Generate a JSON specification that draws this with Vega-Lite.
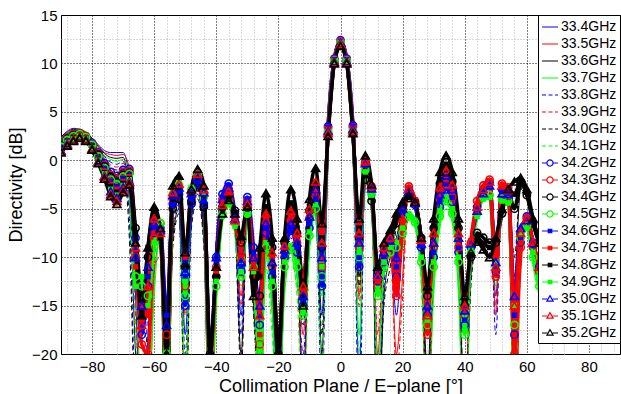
{
"$schema":"https://vega.github.io/schema/vega-lite/v6.json",
"width":559,"height":339,
"autosize":{"type":"none"},
"padding":{"left":61,"top":15,"right":1,"bottom":40},
"background":"white",
"config":{"font":"Liberation Sans","view":{"stroke":"black","strokeWidth":1},
 "axis":{"labelFont":"Liberation Sans","titleFont":"Liberation Sans","labelColor":"black","titleColor":"black","titleFontWeight":"normal","ticks":false,"domain":false},
 "legend":{"orient":"top-right","offset":0,"padding":3,"strokeColor":"black","fillColor":"white","labelFontSize":14,"labelFont":"Liberation Sans","labelColor":"black","labelOffset":2,"symbolSize":256,"symbolStrokeWidth":1.2,"rowPadding":1}},
"data":{"values":[
{"x":-90,"a":2.4,"b":2.3,"c":2.2,"d":2.1,"e":2.0,"f":2.0,"g":1.9,"h":1.8,"i":1.7,"j":1.6,"k":1.5,"l":1.4,"m":1.3,"n":1.2,"o":1.2,"p":1.1,"q":1.0,"r":0.9,"s":0.8},
{"x":-88,"a":3.0,"b":2.9,"c":2.8,"d":2.8,"e":2.7,"f":2.6,"g":2.5,"h":2.4,"i":2.3,"j":2.3,"k":2.2,"l":2.1,"m":2.0,"n":1.9,"o":1.8,"p":1.8,"q":1.7,"r":1.6,"s":1.5},
{"x":-86,"a":3.3,"b":3.2,"c":3.2,"d":3.1,"e":3.0,"f":2.9,"g":2.9,"h":2.8,"i":2.7,"j":2.7,"k":2.6,"l":2.5,"m":2.4,"n":2.4,"o":2.3,"p":2.2,"q":2.1,"r":2.1,"s":2.0},
{"x":-84,"a":3.2,"b":3.2,"c":3.1,"d":3.1,"e":3.0,"f":3.0,"g":2.9,"h":2.9,"i":2.8,"j":2.8,"k":2.7,"l":2.7,"m":2.6,"n":2.6,"o":2.5,"p":2.5,"q":2.4,"r":2.4,"s":2.3},
{"x":-82,"a":2.9,"b":2.9,"c":2.8,"d":2.8,"e":2.7,"f":2.7,"g":2.6,"h":2.6,"i":2.5,"j":2.5,"k":2.4,"l":2.4,"m":2.3,"n":2.3,"o":2.2,"p":2.2,"q":2.1,"r":2.1,"s":2.0},
{"x":-80,"a":2.3,"b":2.2,"c":2.2,"d":2.1,"e":2.0,"f":2.0,"g":1.9,"h":1.8,"i":1.8,"j":1.7,"k":1.6,"l":1.6,"m":1.5,"n":1.4,"o":1.4,"p":1.3,"q":1.2,"r":1.2,"s":1.1},
{"x":-78,"a":1.6,"b":1.5,"c":1.4,"d":1.3,"e":1.2,"f":1.1,"g":1.0,"h":0.9,"i":0.8,"j":0.7,"k":0.6,"l":0.4,"m":0.3,"n":0.2,"o":0.1,"p":0.0,"q":-0.1,"r":-0.2,"s":-0.3},
{"x":-76,"a":1.0,"b":0.8,"c":0.7,"d":0.5,"e":0.4,"f":0.2,"g":0.0,"h":-0.1,"i":-0.3,"j":-0.5,"k":-0.6,"l":-0.8,"m":-0.9,"n":-1.1,"o":-1.3,"p":-1.4,"q":-1.6,"r":-1.7,"s":-1.9},
{"x":-74,"a":0.8,"b":0.6,"c":0.3,"d":0.1,"e":-0.2,"f":-0.5,"g":-0.7,"h":-1.0,"i":-1.2,"j":-1.5,"k":-1.7,"l":-2.0,"m":-2.2,"n":-2.5,"o":-2.7,"p":-3.0,"q":-3.2,"r":-3.5,"s":-3.7},
{"x":-72,"a":0.8,"b":0.5,"c":0.2,"d":-0.1,"e":-0.4,"f":-0.7,"g":-1.0,"h":-1.3,"i":-1.6,"j":-1.9,"k":-2.2,"l":-2.5,"m":-2.7,"n":-3.0,"o":-3.3,"p":-3.6,"q":-3.9,"r":-4.2,"s":-4.5},
{"x":-70,"a":0.8,"b":0.6,"c":0.3,"d":0.1,"e":-0.1,"f":-0.3,"g":-0.6,"h":-0.8,"i":-1.0,"j":-1.2,"k":-1.5,"l":-1.7,"m":-1.9,"n":-2.2,"o":-2.4,"p":-2.6,"q":-2.8,"r":-3.1,"s":-3.3},
{"x":-68,"a":-2.0,"b":-0.8,"c":-4.0,"d":-1.5,"e":-6.0,"f":-2.5,"g":-8.0,"h":-3.0,"i":-0.9,"j":-1.1,"k":-1.3,"l":-1.4,"m":-1.6,"n":-1.7,"o":-1.9,"p":-2.0,"q":-2.2,"r":-2.3,"s":-2.5},
{"x":-66,"a":-14,"b":-9,"c":-20,"d":-11,"e":-25,"f":-16,"g":-28,"h":-18,"i":-8,"j":-10,"k":-7,"l":-12,"m":-9,"n":-11,"o":-7.5,"p":-13,"q":-10,"r":-9,"s":-8.5},
{"x":-64,"a":-30,"b":-28,"c":-32,"d":-26,"e":-30,"f":-27,"g":-35,"h":-29,"i":-18,"j":-19,"k":-14,"l":-13,"m":-17,"n":-15,"o":-16,"p":-12,"q":-15,"r":-17,"s":-16},
{"x":-62,"a":-22,"b":-30,"c":-18,"d":-26,"e":-15,"f":-24,"g":-20,"h":-28,"i":-13,"j":-20,"k":-10,"l":-14,"m":-12,"n":-16,"o":-9,"p":-15,"q":-11,"r":-13,"s":-9},
{"x":-60,"a":-10,"b":-12,"c":-8,"d":-14,"e":-9,"f":-11,"g":-7,"h":-13,"i":-7.5,"j":-8,"k":-6,"l":-9,"m":-7,"n":-7.5,"o":-5.5,"p":-8.5,"q":-6.5,"r":-6,"s":-4.8},
{"x":-58,"a":-7,"b":-8,"c":-9,"d":-7.5,"e":-8,"f":-10,"g":-9,"h":-7,"i":-7,"j":-6.5,"k":-7.5,"l":-6.5,"m":-7,"n":-7,"o":-8,"p":-6.8,"q":-7.2,"r":-7.5,"s":-7},
{"x":-56,"a":-30,"b":-25,"c":-35,"d":-28,"e":-26,"f":-32,"g":-24,"h":-30,"i":-22,"j":-18,"k":-25,"l":-20,"m":-16,"n":-22,"o":-19,"p":-24,"q":-17,"r":-21,"s":-20},
{"x":-54,"a":-6,"b":-5,"c":-8,"d":-4.5,"e":-7,"f":-5.5,"g":-9,"h":-6,"i":-4.5,"j":-4,"k":-5,"l":-3.5,"m":-4.5,"n":-3.8,"o":-4,"p":-3.2,"q":-3.6,"r":-3.3,"s":-2.6},
{"x":-52,"a":-4,"b":-3.5,"c":-5,"d":-3,"e":-4.5,"f":-3.8,"g":-5.5,"h":-4,"i":-3.5,"j":-2.8,"k":-4,"l":-2.5,"m":-3.2,"n":-2.6,"o":-3,"p":-2.3,"q":-2.8,"r":-2.4,"s":-1.6},
{"x":-50,"a":-18,"b":-25,"c":-14,"d":-30,"e":-20,"f":-16,"g":-28,"h":-22,"i":-15,"j":-13,"k":-11,"l":-14,"m":-12,"n":-10,"o":-11,"p":-12.5,"q":-11.5,"r":-9.5,"s":-9.5},
{"x":-48,"a":-5,"b":-4,"c":-6,"d":-3.5,"e":-5.5,"f":-4.5,"g":-7,"h":-4,"i":-4.5,"j":-3.5,"k":-4.2,"l":-3,"m":-4,"n":-3.2,"o":-3.6,"p":-2.8,"q":-3.4,"r":-3,"s":-3},
{"x":-46,"a":-2.5,"b":-2,"c":-3.5,"d":-2.2,"e":-3,"f":-2.6,"g":-4,"h":-2.8,"i":-2.5,"j":-2,"k":-2.8,"l":-1.5,"m":-2.2,"n":-1.7,"o":-2,"p":-1.3,"q":-1.8,"r":-1.4,"s":-0.9},
{"x":-44,"a":-6,"b":-4,"c":-8,"d":-5,"e":-7,"f":-5,"g":-9,"h":-6,"i":-4.5,"j":-3.5,"k":-4.8,"l":-3.8,"m":-4.2,"n":-3.2,"o":-3.6,"p":-3.4,"q":-3.3,"r":-3,"s":-2.6},
{"x":-42,"a":-30,"b":-27,"c":-33,"d":-25,"e":-29,"f":-35,"g":-26,"h":-31,"i":-24,"j":-22,"k":-20,"l":-25,"m":-21,"n":-23,"o":-19,"p":-22,"q":-20,"r":-21,"s":-20},
{"x":-40,"a":-9,"b":-12,"c":-10,"d":-14,"e":-8,"f":-11,"g":-13,"h":-10,"i":-10,"j":-11,"k":-12,"l":-13,"m":-10.5,"n":-11.5,"o":-12,"p":-12.5,"q":-10,"r":-11,"s":-11},
{"x":-38,"a":-4,"b":-4.5,"c":-5,"d":-5.5,"e":-4,"f":-4.8,"g":-6,"h":-5.2,"i":-3.5,"j":-4,"k":-4.8,"l":-5.5,"m":-3.8,"n":-4.3,"o":-5,"p":-5.8,"q":-4,"r":-4.6,"s":-5.5},
{"x":-36,"a":-2.5,"b":-3,"c":-3.5,"d":-4.2,"e":-2.6,"f":-3.2,"g":-4,"h":-4.5,"i":-2.4,"j":-3,"k":-3.6,"l":-4.4,"m":-2.6,"n":-3.1,"o":-3.8,"p":-4.6,"q":-2.8,"r":-3.2,"s":-4.1},
{"x":-34,"a":-5,"b":-6,"c":-6.5,"d":-7,"e":-5.5,"f":-6,"g":-7,"h":-7.5,"i":-5.5,"j":-5.8,"k":-5.2,"l":-6.5,"m":-5.8,"n":-6,"o":-5.4,"p":-6.8,"q":-6,"r":-6.2,"s":-5.5},
{"x":-32,"a":-16,"b":-14,"c":-20,"d":-12,"e":-18,"f":-15,"g":-22,"h":-13,"i":-11.5,"j":-10.5,"k":-8.5,"l":-12,"m":-11,"n":-10,"o":-8,"p":-11.5,"q":-10.5,"r":-9.5,"s":-7.8},
{"x":-30,"a":-4.5,"b":-5,"c":-5.5,"d":-6,"e":-4.8,"f":-5.2,"g":-6,"h":-6.5,"i":-3.8,"j":-4.2,"k":-4.8,"l":-5.5,"m":-4,"n":-4.4,"o":-4.9,"p":-5.6,"q":-4.2,"r":-4.5,"s":-4.8},
{"x":-28,"a":-12,"b":-10,"c":-15,"d":-11,"e":-13,"f":-9,"g":-16,"h":-12,"i":-9,"j":-10,"k":-12,"l":-11,"m":-9.5,"n":-10.5,"o":-12.5,"p":-11.5,"q":-10,"r":-11,"s":-14},
{"x":-26,"a":-25,"b":-30,"c":-22,"d":-28,"e":-26,"f":-32,"g":-24,"h":-27,"i":-17,"j":-19,"k":-14,"l":-20,"m":-16,"n":-18,"o":-12,"p":-19,"q":-15,"r":-16,"s":-9},
{"x":-24,"a":-8,"b":-7,"c":-6,"d":-10,"e":-8.5,"f":-7.5,"g":-6.5,"h":-11,"i":-7.5,"j":-6.5,"k":-5.5,"l":-9,"m":-7,"n":-6,"o":-4.8,"p":-8.5,"q":-6.5,"r":-5.5,"s":-3.4},
{"x":-22,"a":-14,"b":-12,"c":-10,"d":-16,"e":-15,"f":-13,"g":-11,"h":-18,"i":-12,"j":-11,"k":-9,"l":-13,"m":-11.5,"n":-10,"o":-8.5,"p":-12.5,"q":-10.5,"r":-9.5,"s":-8},
{"x":-20,"a":-28,"b":-25,"c":-30,"d":-26,"e":-32,"f":-27,"g":-25,"h":-29,"i":-22,"j":-21,"k":-20,"l":-24,"m":-21,"n":-22,"o":-19,"p":-23,"q":-21,"r":-20,"s":-20},
{"x":-18,"a":-12,"b":-10,"c":-9,"d":-14,"e":-11,"f":-10.5,"g":-9.5,"h":-13,"i":-10,"j":-9.5,"k":-8.5,"l":-11,"m":-9.8,"n":-9,"o":-8.2,"p":-10.5,"q":-9.2,"r":-8.8,"s":-8},
{"x":-16,"a":-7.5,"b":-6.5,"c":-5.5,"d":-9.5,"e":-8,"f":-7,"g":-6,"h":-10,"i":-7.3,"j":-6.2,"k":-5,"l":-9.2,"m":-7,"n":-5.8,"o":-4.4,"p":-8.8,"q":-6.5,"r":-5.2,"s":-3},
{"x":-14,"a":-11,"b":-10,"c":-9,"d":-13,"e":-12,"f":-10.5,"g":-9.5,"h":-14,"i":-9.5,"j":-8.5,"k":-7.5,"l":-11,"m":-9,"n":-8,"o":-7,"p":-10.5,"q":-8.5,"r":-7.5,"s":-6},
{"x":-12,"a":-22,"b":-18,"c":-26,"d":-16,"e":-20,"f":-24,"g":-17,"h":-28,"i":-15,"j":-14,"k":-13,"l":-16,"m":-14.5,"n":-13.5,"o":-12.5,"p":-15.5,"q":-14,"r":-13,"s":-15},
{"x":-10,"a":-8,"b":-7,"c":-6,"d":-9,"e":-8.5,"f":-7.5,"g":-6.5,"h":-9.5,"i":-7,"j":-6,"k":-5.2,"l":-7.8,"m":-6.5,"n":-5.6,"o":-4.8,"p":-7.4,"q":-5.8,"r":-5,"s":-4},
{"x":-8,"a":-5,"b":-4,"c":-3,"d":-5.5,"e":-4.5,"f":-3.5,"g":-2.5,"h":-6,"i":-4.5,"j":-3.8,"k":-3,"l":-5,"m":-4,"n":-3.2,"o":-2.4,"p":-4.6,"q":-3,"r":-2.2,"s":-0.8},
{"x":-6,"a":-16,"b":-12,"c":-20,"d":-14,"e":-25,"f":-13,"g":-18,"h":-22,"i":-13,"j":-11,"k":-9,"l":-12,"m":-12,"n":-10,"o":-8,"p":-11,"q":-10,"r":-8.5,"s":-6.5},
{"x":-4,"a":3.8,"b":3.5,"c":3.0,"d":3.2,"e":3.6,"f":3.4,"g":2.9,"h":3.1,"i":3.5,"j":3.3,"k":2.8,"l":3.0,"m":3.4,"n":3.2,"o":2.7,"p":2.9,"q":3.0,"r":2.8,"s":2.5},
{"x":-2,"a":10.6,"b":10.5,"c":10.2,"d":10.4,"e":10.5,"f":10.4,"g":10.1,"h":10.3,"i":10.5,"j":10.4,"k":10.1,"l":10.3,"m":10.4,"n":10.3,"o":10.1,"p":10.2,"q":10.2,"r":10.1,"s":10.0},
{"x":0,"a":12.5,"b":12.4,"c":12.0,"d":12.3,"e":12.4,"f":12.3,"g":12.0,"h":12.2,"i":12.4,"j":12.3,"k":11.9,"l":12.2,"m":12.3,"n":12.2,"o":11.9,"p":12.1,"q":12.1,"r":12.0,"s":11.8},
{"x":2,"a":10.6,"b":10.5,"c":10.2,"d":10.4,"e":10.5,"f":10.4,"g":10.1,"h":10.3,"i":10.5,"j":10.4,"k":10.1,"l":10.3,"m":10.4,"n":10.3,"o":10.1,"p":10.2,"q":10.2,"r":10.1,"s":10.0},
{"x":4,"a":3.8,"b":3.6,"c":3.0,"d":3.3,"e":3.7,"f":3.4,"g":2.9,"h":3.2,"i":3.6,"j":3.4,"k":2.9,"l":3.1,"m":3.5,"n":3.3,"o":2.8,"p":3.0,"q":3.2,"r":3.0,"s":2.8},
{"x":6,"a":-22,"b":-14,"c":-12,"d":-18,"e":-28,"f":-15,"g":-13,"h":-20,"i":-11,"j":-9,"k":-8,"l":-10,"m":-10,"n":-8.5,"o":-7,"p":-9.5,"q":-8.5,"r":-7.5,"s":-6},
{"x":8,"a":-0.5,"b":-0.2,"c":-1.5,"d":-1.2,"e":-0.6,"f":-0.4,"g":-1.8,"h":-1.5,"i":-0.3,"j":-0.2,"k":-2,"l":-1,"m":-0.5,"n":-0.4,"o":-1.6,"p":-1.2,"q":-0.3,"r":-0.1,"s":0.5},
{"x":10,"a":-3,"b":-2.8,"c":-4,"d":-3.8,"e":-3.2,"f":-3,"g":-4.5,"h":-4,"i":-3,"j":-2.7,"k":-4.2,"l":-3.5,"m":-3.2,"n":-2.9,"o":-3.8,"p":-3.6,"q":-2.9,"r":-2.6,"s":-2.5},
{"x":12,"a":-25,"b":-20,"c":-30,"d":-22,"e":-28,"f":-18,"g":-26,"h":-24,"i":-12.5,"j":-13,"k":-11.5,"l":-14,"m":-12,"n":-12.5,"o":-11,"p":-13.5,"q":-11.8,"r":-12,"s":-11},
{"x":14,"a":-12,"b":-10,"c":-14,"d":-11,"e":-13,"f":-9.5,"g":-15,"h":-12,"i":-10.5,"j":-10,"k":-9,"l":-11,"m":-10,"n":-9.5,"o":-8.8,"p":-10.5,"q":-9.5,"r":-9,"s":-8.5},
{"x":16,"a":-9,"b":-8.5,"c":-10,"d":-9.5,"e":-8.8,"f":-8,"g":-11,"h":-10,"i":-9,"j":-8.8,"k":-8,"l":-9.5,"m":-8.5,"n":-8.2,"o":-7.6,"p":-9,"q":-8.3,"r":-8,"s":-7.2},
{"x":18,"a":-16,"b":-20,"c":-8,"d":-12,"e":-14,"f":-22,"g":-7,"h":-11,"i":-12,"j":-14,"k":-6.5,"l":-9,"m":-11,"n":-13,"o":-6,"p":-8.5,"q":-10,"r":-12,"s":-5.5},
{"x":20,"a":-8,"b":-12,"c":-5,"d":-9,"e":-7,"f":-14,"g":-4.8,"h":-8.5,"i":-6,"j":-7,"k":-4.8,"l":-7.5,"m":-5.5,"n":-6.5,"o":-4.6,"p":-7,"q":-5,"r":-6,"s":-4.3},
{"x":22,"a":-3.2,"b":-2.8,"c":-4,"d":-6,"e":-3.5,"f":-3,"g":-4.2,"h":-6.2,"i":-3.2,"j":-2.7,"k":-3.9,"l":-5.8,"m":-3.1,"n":-2.8,"o":-3.8,"p":-5.5,"q":-3.2,"r":-2.9,"s":-3.6},
{"x":24,"a":-4.5,"b":-4,"c":-4.5,"d":-6.5,"e":-4.8,"f":-4.2,"g":-4.6,"h":-7,"i":-4.6,"j":-4.2,"k":-4.4,"l":-6.4,"m":-4.5,"n":-4.1,"o":-4.3,"p":-6.2,"q":-4.4,"r":-4.2,"s":-4.3},
{"x":26,"a":-10,"b":-9,"c":-8.5,"d":-12,"e":-11,"f":-9.5,"g":-9,"h":-13,"i":-9,"j":-8.5,"k":-8,"l":-10.5,"m":-8.8,"n":-8.4,"o":-8,"p":-10,"q":-8.6,"r":-8.2,"s":-8},
{"x":28,"a":-26,"b":-30,"c":-22,"d":-28,"e":-25,"f":-32,"g":-24,"h":-27,"i":-16,"j":-18,"k":-14,"l":-17,"m":-15.5,"n":-17,"o":-13.5,"p":-16.5,"q":-15,"r":-16,"s":-13},
{"x":30,"a":-12,"b":-10,"c":-8,"d":-14,"e":-11,"f":-9,"g":-7.5,"h":-13,"i":-10,"j":-9,"k":-7,"l":-11,"m":-9.5,"n":-8.5,"o":-6.8,"p":-10.5,"q":-8.5,"r":-7.5,"s":-6},
{"x":32,"a":-5.5,"b":-4.5,"c":-3,"d":-7,"e":-5,"f":-4,"g":-2.5,"h":-6.5,"i":-4.8,"j":-4,"k":-2.4,"l":-5.8,"m":-4.2,"n":-3.5,"o":-2,"p":-5.2,"q":-3.5,"r":-2.8,"s":-1.2},
{"x":34,"a":-3.5,"b":-3,"c":-1,"d":-5,"e":-3.2,"f":-2.6,"g":-0.6,"h":-4.6,"i":-3,"j":-2.5,"k":-0.8,"l":-4.2,"m":-2.4,"n":-2,"o":-0.4,"p":-3.8,"q":-1.6,"r":-1,"s":0.5},
{"x":36,"a":-5,"b":-4.4,"c":-2.5,"d":-6.5,"e":-4.8,"f":-4,"g":-2.2,"h":-6,"i":-4.3,"j":-3.8,"k":-2.2,"l":-5.5,"m":-3.8,"n":-3.3,"o":-1.9,"p":-5,"q":-3,"r":-2.5,"s":-1.2},
{"x":38,"a":-12,"b":-11,"c":-8,"d":-14,"e":-11.5,"f":-10,"g":-7.5,"h":-13,"i":-9.5,"j":-9,"k":-7,"l":-10.5,"m":-9,"n":-8.5,"o":-6.8,"p":-10,"q":-8,"r":-7.5,"s":-6},
{"x":40,"a":-30,"b":-26,"c":-28,"d":-32,"e":-25,"f":-29,"g":-27,"h":-31,"i":-17,"j":-16,"k":-15,"l":-18,"m":-16.5,"n":-15.5,"o":-14.5,"p":-17.5,"q":-15.5,"r":-15,"s":-14},
{"x":42,"a":-10,"b":-9,"c":-12,"d":-11,"e":-9.5,"f":-8.5,"g":-13,"h":-10.5,"i":-9,"j":-8.5,"k":-10,"l":-9.5,"m":-8.8,"n":-8.3,"o":-9.8,"p":-9.2,"q":-8.6,"r":-8.4,"s":-9.5},
{"x":44,"a":-4.5,"b":-4,"c":-8,"d":-5.5,"e":-4.8,"f":-4.2,"g":-8.5,"h":-5.8,"i":-4.8,"j":-4.2,"k":-7.5,"l":-5.5,"m":-5,"n":-4.5,"o":-8,"p":-5.8,"q":-5.2,"r":-4.8,"s":-8.4},
{"x":46,"a":-2.8,"b":-2.5,"c":-8.5,"d":-3.5,"e":-3,"f":-2.6,"g":-9,"h":-3.8,"i":-3,"j":-2.6,"k":-8,"l":-3.8,"m":-3.2,"n":-2.8,"o":-8.6,"p":-4,"q":-3.4,"r":-3,"s":-9.2},
{"x":48,"a":-2.2,"b":-1.9,"c":-9,"d":-3.5,"e":-2.4,"f":-2,"g":-9.5,"h":-3.8,"i":-2.3,"j":-2,"k":-8.5,"l":-3.6,"m":-2.5,"n":-2.1,"o":-9,"p":-3.8,"q":-2.6,"r":-2.2,"s":-10},
{"x":50,"a":-14,"b":-16,"c":-9,"d":-12,"e":-18,"f":-15,"g":-8.5,"h":-13,"i":-11.5,"j":-12,"k":-8.5,"l":-11,"m":-11,"n":-11.5,"o":-8.2,"p":-10.5,"q":-10.5,"r":-11,"s":-8},
{"x":52,"a":-3,"b":-2.5,"c":-6,"d":-4,"e":-3.4,"f":-2.8,"g":-5.5,"h":-4.5,"i":-3,"j":-2.4,"k":-5.5,"l":-4,"m":-3.2,"n":-2.5,"o":-5.2,"p":-4.2,"q":-3.4,"r":-2.6,"s":-5},
{"x":54,"a":-3.5,"b":-3,"c":-3.5,"d":-4.5,"e":-3.8,"f":-3.2,"g":-3.2,"h":-4.8,"i":-3.2,"j":-2.8,"k":-3.2,"l":-4.2,"m":-3.4,"n":-3,"o":-3,"p":-4.4,"q":-3.5,"r":-3.1,"s":-3},
{"x":56,"a":-26,"b":-30,"c":-12,"d":-28,"e":-24,"f":-25,"g":-10,"h":-27,"i":-18,"j":-20,"k":-5,"l":-17,"m":-16,"n":-18,"o":-3.5,"p":-15,"q":-14,"r":-15,"s":-2.2},
{"x":58,"a":-10,"b":-12,"c":-3,"d":-9,"e":-9.5,"f":-11,"g":-2.5,"h":-8.5,"i":-8.5,"j":-9,"k":-2.5,"l":-8,"m":-8,"n":-8.5,"o":-2.2,"p":-7.5,"q":-7,"r":-7.5,"s":-1.8},
{"x":60,"a":-6,"b":-6.2,"c":-4,"d":-7,"e":-6.3,"f":-6,"g":-3.6,"h":-7.2,"i":-5.8,"j":-6,"k":-3.6,"l":-6.8,"m":-6,"n":-5.9,"o":-3.3,"p":-7,"q":-6.2,"r":-6,"s":-3},
{"x":62,"a":-9,"b":-10,"c":-7,"d":-11,"e":-9.5,"f":-9,"g":-6.5,"h":-10.5,"i":-8.5,"j":-9,"k":-6.5,"l":-10,"m":-8.8,"n":-8.6,"o":-6.2,"p":-9.5,"q":-8.5,"r":-8.4,"s":-6},
{"x":64,"a":-12,"b":-13,"c":-9,"d":-14,"e":-12,"f":-12,"g":-8.5,"h":-13.5,"i":-11,"j":-11.5,"k":-8.5,"l":-13,"m":-11,"n":-11,"o":-8,"p":-12,"q":-11,"r":-11,"s":-8.5}
]},
"transform":[{"fold":["a","b","c","d","e","f","g","h","i","j","k","l","m","n","o","p","q","r","s"],"as":["k","y"]}],
"encoding":{
 "x":{"field":"x","type":"quantitative","scale":{"domain":[-90,90],"nice":false,"zero":false},"axis":null},
 "y":{"field":"y","type":"quantitative","scale":{"domain":[-20,15],"nice":false,"zero":false},"axis":null}
},
"layer":[
 {"transform":[{"filter":{"field":"k","oneOf":["a","b","c","d"]}}],
  "mark":{"type":"line","strokeWidth":1,"interpolate":"monotone","clip":true},
  "encoding":{
   "x":{"field":"x","type":"quantitative","scale":{"domain":[-90,90],"nice":false,"zero":false},
     "axis":{"orient":"top","values":[-88,-84,-76,-72,-68,-64,-56,-52,-48,-44,-36,-32,-28,-24,-16,-12,-8,-4,4,8,12,16,24,28,32,36,44,48,52,56,64,68,72,76,84,88],"grid":true,"gridColor":"#b4b4b4","gridDash":[1,2],"gridWidth":1,"labels":false,"ticks":false,"domain":false,"title":null}},
   "y":{"field":"y","type":"quantitative","scale":{"domain":[-20,15],"nice":false,"zero":false},
     "axis":{"orient":"right","values":[12.5,7.5,2.5,-2.5,-7.5,-12.5,-17.5],"grid":true,"gridColor":"#b4b4b4","gridDash":[1,2],"gridWidth":1,"labels":false,"ticks":false,"domain":false,"title":null}},
   "color":{"field":"k","type":"nominal","scale":{"range":["#0000ff","#ff0000","#000000","#00ff00","#0000ff","#ff0000","#000000","#00ff00","#0000ff","#ff0000","#000000","#00ff00","#0000ff","#ff0000","#000000","#00ff00","#0000ff","#ff0000","#000000"]},"legend":null}
  }},
 {"transform":[{"filter":{"field":"k","oneOf":["e","f","g","h"]}}],
  "mark":{"type":"line","strokeWidth":1,"strokeDash":[5,3],"interpolate":"monotone","clip":true},
  "encoding":{
   "x":{"field":"x","type":"quantitative","scale":{"domain":[-90,90],"nice":false,"zero":false},
     "axis":{"orient":"bottom","values":[-80,-60,-40,-20,0,20,40,60,80],"grid":true,"gridColor":"black","gridDash":[1,2],"gridWidth":1,"labelFontSize":15,"labelPadding":5,"title":"Collimation Plane / E−plane [°]","titleFontSize":18,"titlePadding":3}},
   "y":{"field":"y","type":"quantitative","scale":{"domain":[-20,15],"nice":false,"zero":false},
     "axis":{"orient":"left","values":[-20,-15,-10,-5,0,5,10,15],"grid":true,"gridColor":"black","gridDash":[1,2],"gridWidth":1,"labelFontSize":15,"labelPadding":4,"title":"Directivity [dB]","titleFontSize":18,"titlePadding":6}},
   "color":{"field":"k","type":"nominal","legend":null}
  }},
 {"transform":[{"filter":{"field":"k","oneOf":["i","j","k","l","m","n","o","p","q","r","s"]}}],
  "mark":{"type":"line","strokeWidth":3.5,"interpolate":"monotone","clip":true},
  "encoding":{"color":{"field":"k","type":"nominal","legend":null}}},
 {"transform":[{"filter":{"field":"k","oneOf":["i","j","k","l"]}}],
  "mark":{"type":"point","shape":"circle","filled":false,"size":52,"strokeWidth":1.6,"opacity":1,"clip":true},
  "encoding":{"color":{"field":"k","type":"nominal","legend":null},"order":{"field":"k"}}},
 {"transform":[{"filter":{"field":"k","oneOf":["m","n","o","p"]}}],
  "mark":{"type":"point","shape":"square","filled":true,"size":30,"opacity":1,"clip":true},
  "encoding":{"color":{"field":"k","type":"nominal","legend":null},"order":{"field":"k"}}},
 {"transform":[{"filter":{"field":"k","oneOf":["q","r","s"]}}],
  "mark":{"type":"point","shape":"triangle-up","filled":false,"size":62,"strokeWidth":1.7,"opacity":1,"clip":true},
  "encoding":{"color":{"field":"k","type":"nominal","legend":null},"order":{"field":"k"}}},
 {"transform":[{"filter":"datum.x > 1000"}],
  "mark":{"type":"point","opacity":1,"clip":true},
  "encoding":{
   "shape":{"field":"k","type":"nominal","scale":{"domain":["a","b","c","d","e","f","g","h","i","j","k","l","m","n","o","p","q","r","s"],"range":["M-1,0H1","M-1,0H1","M-1,0H1","M-1,0H1","M-1,0H1","M-1,0H1","M-1,0H1","M-1,0H1","M-1,0H-0.38M0.38,0H1M0.38,0A0.38,0.38,0,1,1,-0.38,0A0.38,0.38,0,1,1,0.38,0","M-1,0H-0.38M0.38,0H1M0.38,0A0.38,0.38,0,1,1,-0.38,0A0.38,0.38,0,1,1,0.38,0","M-1,0H-0.38M0.38,0H1M0.38,0A0.38,0.38,0,1,1,-0.38,0A0.38,0.38,0,1,1,0.38,0","M-1,0H-0.38M0.38,0H1M0.38,0A0.38,0.38,0,1,1,-0.38,0A0.38,0.38,0,1,1,0.38,0","M-1,0H1M-0.22,-0.22H0.22V0.22H-0.22Z","M-1,0H1M-0.22,-0.22H0.22V0.22H-0.22Z","M-1,0H1M-0.22,-0.22H0.22V0.22H-0.22Z","M-1,0H1M-0.22,-0.22H0.22V0.22H-0.22Z","M-1,0H-0.34M0.34,0H1M0,-0.42L0.38,0.26L-0.38,0.26Z","M-1,0H-0.34M0.34,0H1M0,-0.42L0.38,0.26L-0.38,0.26Z","M-1,0H-0.34M0.34,0H1M0,-0.42L0.38,0.26L-0.38,0.26Z"]},
     "legend":{"title":null,"labelExpr":"['33.4GHz','33.5GHz','33.6GHz','33.7GHz','33.8GHz','33.9GHz','34.0GHz','34.1GHz','34.2GHz','34.3GHz','34.4GHz','34.5GHz','34.6GHz','34.7GHz','34.8GHz','34.9GHz','35.0GHz','35.1GHz','35.2GHz'][indexof(['a','b','c','d','e','f','g','h','i','j','k','l','m','n','o','p','q','r','s'],datum.label)]"}},
   "stroke":{"field":"k","type":"nominal","scale":{"domain":["a","b","c","d","e","f","g","h","i","j","k","l","m","n","o","p","q","r","s"],"range":["#0000ff","#ff0000","#000000","#00ff00","#0000ff","#ff0000","#000000","#00ff00","#0000ff","#ff0000","#000000","#00ff00","#0000ff","#ff0000","#000000","#00ff00","#0000ff","#ff0000","#000000"]},
     "legend":{"title":null,"labelExpr":"['33.4GHz','33.5GHz','33.6GHz','33.7GHz','33.8GHz','33.9GHz','34.0GHz','34.1GHz','34.2GHz','34.3GHz','34.4GHz','34.5GHz','34.6GHz','34.7GHz','34.8GHz','34.9GHz','35.0GHz','35.1GHz','35.2GHz'][indexof(['a','b','c','d','e','f','g','h','i','j','k','l','m','n','o','p','q','r','s'],datum.label)]"}},
   "fill":{"field":"k","type":"nominal","scale":{"domain":["a","b","c","d","e","f","g","h","i","j","k","l","m","n","o","p","q","r","s"],"range":["white","white","white","white","white","white","white","white","white","white","white","white","#0000ff","#ff0000","#000000","#00ff00","white","white","white"]},
     "legend":{"title":null,"labelExpr":"['33.4GHz','33.5GHz','33.6GHz','33.7GHz','33.8GHz','33.9GHz','34.0GHz','34.1GHz','34.2GHz','34.3GHz','34.4GHz','34.5GHz','34.6GHz','34.7GHz','34.8GHz','34.9GHz','35.0GHz','35.1GHz','35.2GHz'][indexof(['a','b','c','d','e','f','g','h','i','j','k','l','m','n','o','p','q','r','s'],datum.label)]"}},
   "strokeDash":{"field":"k","type":"nominal","scale":{"domain":["a","b","c","d","e","f","g","h","i","j","k","l","m","n","o","p","q","r","s"],"range":[[1,0],[1,0],[1,0],[1,0],[4,2.5],[4,2.5],[4,2.5],[4,2.5],[1,0],[1,0],[1,0],[1,0],[1,0],[1,0],[1,0],[1,0],[1,0],[1,0],[1,0]]},
     "legend":{"title":null,"labelExpr":"['33.4GHz','33.5GHz','33.6GHz','33.7GHz','33.8GHz','33.9GHz','34.0GHz','34.1GHz','34.2GHz','34.3GHz','34.4GHz','34.5GHz','34.6GHz','34.7GHz','34.8GHz','34.9GHz','35.0GHz','35.1GHz','35.2GHz'][indexof(['a','b','c','d','e','f','g','h','i','j','k','l','m','n','o','p','q','r','s'],datum.label)]"}}
  }}
],
"resolve":{"axis":{"x":"independent","y":"independent"}}
}
